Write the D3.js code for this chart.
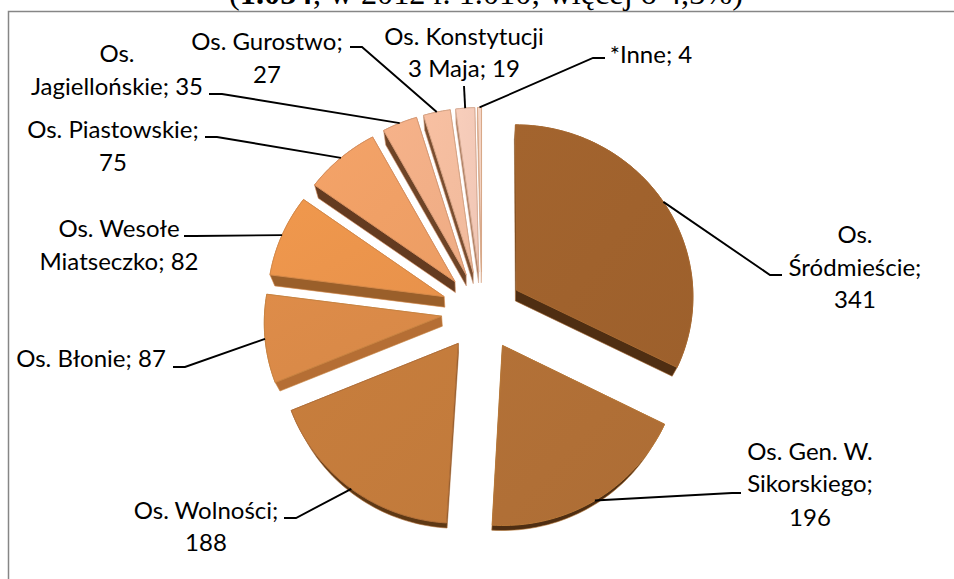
<!DOCTYPE html>
<html><head><meta charset="utf-8">
<script src="https://cdn.jsdelivr.net/npm/d3@7"></script>
<style>html,body{margin:0;padding:0;background:#fff;overflow:hidden}svg{display:block}</style>
</head><body><div id="chart"></div>
<script>
const categories = ["Os. Śródmieście","Os. Gen. W. Sikorskiego","Os. Wolności","Os. Błonie","Os. Wesołe Miatseczko","Os. Piastowskie","Os. Jagiellońskie","Os. Gurostwo","Os. Konstytucji 3 Maja","*Inne"];
const values = [341,196,188,87,82,75,35,27,19,4];
const labelLines = [
  ["Os.","Śródmieście;","341"],["Os. Gen. W.","Sikorskiego;","196"],["Os. Wolności;","188"],
  ["Os. Błonie; 87"],["Os. Wesołe","Miatseczko; 82"],["Os. Piastowskie;","75"],
  ["Os.","Jagiellońskie; 35"],["Os. Gurostwo;","27"],["Os. Konstytucji","3 Maja; 19"],["*Inne; 4"]];
const topColors = ["#A0622D","#B06F36","#C47C3C","#DA8A48","#EC954C","#F0A066","#F2AF87","#F4BD9F","#F4CAB8","#F3D3C3"];
const sideColors = ["#4F2E12","#4F2E12","#5E3814","#B56E34","#9A5F2A","#643B20","#6E4427","#7A4E30","#A87A5C","#C9A084"];
const rimColors = ["#A86A32","#B87838","#B2703A","#C98442","#D68A4A","#D99160","#D99C78","#D8A688","#D9AE98","#D8A888"];
// label layout: centre x and baselines
const labelX = [855,810,206,91,119,113,117,267,464,651];
const labelY = [[243,276,308],[460,492,526],[519,551],[367],[237,270],[138,171],[62,95],[50,83],[45,77],[63]];
// leader-line waypoints after the anchor on the slice rim
const leaders = [[[770,275],[782,275]],[[732,493],[741,493]],[[296,518],[284,518]],[[185,367],[173,367]],[[195,236],[184,236]],[[217,137],[205,137]],[[222,94],[209,94]],[[362,47],[350,47]],[[464,86]],[[593,58],[605,58]]];
const titleParts = [["(",false],["1.054",true],["; w 2012 r. 1.010; więcej o 4,3%)",false]];

const W = 954, H = 579;
const svg = d3.select("#chart").append("svg").attr("width",W).attr("height",H);
const defs = svg.append("defs");

const explode = 0.23, persp = 0.032, depth = 0.024;
const vanish = [472,735];
const sx = d3.scaleLinear().domain([-1,1]).range([482-177,482+177]);
const sy = d3.scaleLinear().domain([-1,1]).range([311+172,311-172]);
const project = (u,v) => { const w = 1+persp*v; return [sx(u/w), sy(v/w)]; };
const lower = p => [vanish[0]+(1-depth)*(p[0]-vanish[0]), vanish[1]+(1-depth)*(p[1]-vanish[1])];

const arcs = d3.pie().sort(null).value(d=>d).startAngle(0).endAngle(2*Math.PI)(values);
const line = d3.line().curve(d3.curveLinear);

// frame, open at bottom and right, title clipped by the page top
svg.append("path").attr("d","M8.5,579V11.5H954").attr("fill","none").attr("stroke","#868686").attr("stroke-width",1.5);
const title = svg.append("text").attr("x",486).attr("y",4).attr("text-anchor","middle")
  .attr("font-family","'Liberation Serif',serif").attr("font-size",32.3).attr("fill","#000");
title.selectAll("tspan").data(titleParts).join("tspan").text(d=>d[0]).attr("font-weight",d=>d[1]?"bold":"normal");

const anchors = [];
arcs.forEach((a,i)=>{
  const mid=(a.startAngle+a.endAngle)/2, ox=Math.sin(mid)*explode, oy=Math.cos(mid)*explode;
  const n=Math.max(4,Math.ceil((a.endAngle-a.startAngle)*40));
  const pts=[project(ox,oy)];
  d3.range(n+1).forEach(k=>{const t=a.startAngle+(a.endAngle-a.startAngle)*k/n;pts.push(project(ox+Math.sin(t),oy+Math.cos(t)));});
  anchors.push(project(ox+Math.sin(mid),oy+Math.cos(mid)));
  const c=d3.color(topColors[i]);
  const g=defs.append("linearGradient").attr("id","g"+i).attr("x1","0").attr("y1","0").attr("x2","1").attr("y2","1");
  g.append("stop").attr("offset","0").attr("stop-color",c.brighter(0.05).formatHex());
  g.append("stop").attr("offset","1").attr("stop-color",c.darker(0.05).formatHex());
  const hull=d3.polygonHull(pts.concat(pts.map(lower)));
  svg.append("path").attr("d",line(hull)+"Z").attr("fill",sideColors[i]).attr("stroke",rimColors[i]).attr("stroke-width",0.6);
  svg.append("path").attr("d",line(pts)+"Z").attr("fill",`url(#g${i})`).attr("stroke",rimColors[i]).attr("stroke-width",1).attr("stroke-linejoin","round");
});

// leaders
leaders.forEach((l,i)=>{
  svg.append("path").attr("d",line([anchors[i],...l])).attr("fill","none").attr("stroke","#000").attr("stroke-width",1.9);
});

// labels
labelLines.forEach((ls,i)=>{
  ls.forEach((s,j)=>{
    svg.append("text").attr("x",labelX[i]).attr("y",labelY[i][j]).attr("text-anchor","middle")
      .attr("font-family","Lato,'Open Sans',sans-serif").attr("font-size",24).attr("fill","#000").text(s);
  });
});
</script></body></html>
